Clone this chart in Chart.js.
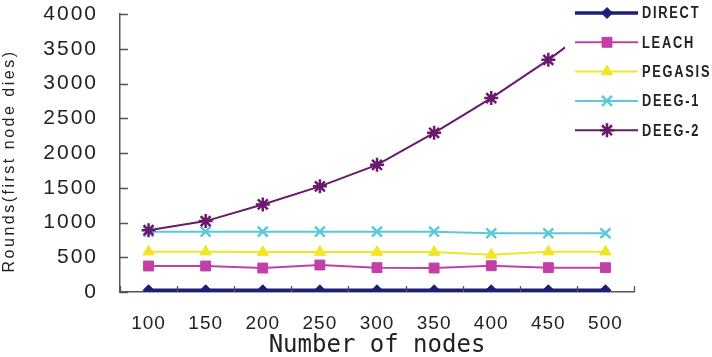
<!DOCTYPE html>
<html>
<head>
<meta charset="utf-8">
<script src="https://cdn.jsdelivr.net/npm/chart.js@4.4.0/dist/chart.umd.min.js"></script>
<style>
html,body{margin:0;padding:0;background:#fff;}
#c{display:block;}
</style>
</head>
<body>
<canvas id="c" width="712" height="357"></canvas>
<script>
const categories = ['100','150','200','250','300','350','400','450','500'];
const seriesNames = ['DIRECT','LEACH','PEGASIS','DEEG-1','DEEG-2'];
const direct  = [25, 25, 25, 25, 25, 25, 25, 25, 25];
const leach   = [374, 374, 345, 388, 350, 345, 378, 350, 350];
const pegasis = [580, 580, 575, 575, 575, 575, 535, 580, 580];
const deeg1   = [868, 868, 868, 868, 868, 868, 845, 845, 845];
const deeg2   = [890, 1020, 1260, 1520, 1830, 2290, 2790, 3340, 3950];
const yTicks = {min: 0, max: 4000, step: 500};

const colors = ['#1e1e78', '#c040a8', '#f0e628', '#5cc8d8', '#6a1a6e'];
const styles = ['rectRot', 'rect', 'triangle', 'crossRot', 'star'];
const radii  = [5.5, 7, 6.5, 7, 7];
const widths = [3.5, 2, 2, 2, 2];
const values = [direct, leach, pegasis, deeg1, deeg2];

const datasets = seriesNames.map((n, i) => ({
  label: n,
  data: values[i],
  borderColor: colors[i],
  backgroundColor: colors[i],
  pointBackgroundColor: colors[i],
  pointBorderColor: colors[i],
  pointStyle: styles[i],
  pointRadius: radii[i],
  pointBorderWidth: (styles[i] === 'crossRot' || styles[i] === 'star') ? 2.5 : 1,
  borderWidth: widths[i],
  tension: 0,
  order: 5 - i
}));

function wrapSpacing(scale, labelSpacing, titleSpacing, titleShiftX, titleShiftY) {
  if (scale._wrapped) return;
  scale._wrapped = true;
  const dl = scale.drawLabels.bind(scale);
  const dt = scale.drawTitle.bind(scale);
  scale.drawLabels = function (a) {
    const ctx = scale.ctx; ctx.save(); ctx.letterSpacing = labelSpacing + 'px'; dl(a); ctx.restore();
  };
  scale.drawTitle = function (a) {
    const ctx = scale.ctx; ctx.save(); ctx.letterSpacing = titleSpacing + 'px';
    ctx.translate(titleShiftX, titleShiftY); dt(a); ctx.restore();
  };
}

const extras = {
  id: 'extras',
  beforeDraw(chart) {
    wrapSpacing(chart.scales.y, 2, 2.5, 0, 8);
    wrapSpacing(chart.scales.x, 1, 0, 0, 3);
  },
  afterDatasetsDraw(chart) {
    const ctx = chart.ctx;
    const x = chart.scales.x, y = chart.scales.y;
    const a = chart.chartArea;
    ctx.save();
    ctx.strokeStyle = '#555';
    ctx.lineWidth = 1.3;
    ctx.beginPath();
    y.ticks.forEach(t => {
      const py = Math.round(y.getPixelForValue(t.value)) + 0.5;
      ctx.moveTo(a.left, py); ctx.lineTo(a.left + 8, py);
    });
    for (let i = 0; i <= categories.length; i++) {
      const px = Math.round(x.getPixelForValue(i - 0.5)) + 0.5;
      ctx.moveTo(px, a.bottom); ctx.lineTo(px, a.bottom - 6);
    }
    ctx.stroke();

    // legend box (white, overlaps plot)
    const lx = 565, ly = 0, lw = 147, lh = 148;
    ctx.fillStyle = '#fff';
    ctx.fillRect(lx, ly, lw, lh);
    chart.data.datasets.forEach((ds, i) => {
      const rowY = 13 + i * 29.3;
      ctx.strokeStyle = ds.borderColor;
      ctx.lineWidth = ds.borderWidth;
      ctx.beginPath(); ctx.moveTo(575, rowY); ctx.lineTo(638, rowY); ctx.stroke();
      ctx.fillStyle = ds.pointBackgroundColor;
      ctx.strokeStyle = ds.pointBorderColor;
      ctx.lineWidth = ds.pointBorderWidth;
      Chart.helpers.drawPoint(ctx, {pointStyle: ds.pointStyle, radius: ds.pointRadius, rotation: 0, borderWidth: ds.pointBorderWidth}, 607, rowY);
      ctx.save();
      ctx.translate(642, rowY + 1);
      ctx.scale(0.8, 1);
      ctx.font = 'bold 16px "Liberation Sans", Arial, sans-serif';
      ctx.letterSpacing = '2.2px';
      ctx.textBaseline = 'middle';
      ctx.textAlign = 'left';
      ctx.fillStyle = '#222';
      ctx.fillText(ds.label, 0, 0);
      ctx.restore();
    });
    ctx.restore();
  }
};

new Chart(document.getElementById('c'), {
  type: 'line',
  data: { labels: categories, datasets },
  options: {
    responsive: false,
    animation: false,
    devicePixelRatio: 1,
    layout: { padding: { top: 14, right: 78, left: 0, bottom: 0 } },
    plugins: { legend: { display: false }, tooltip: { enabled: false } },
    scales: {
      x: {
        type: 'category',
        offset: true,
        grid: { display: false, offset: true, drawTicks: false },
        border: { display: true, color: '#555', width: 1.5 },
        ticks: { color: '#222', padding: 20, maxRotation: 0, font: { family: 'Arial, "Liberation Sans", sans-serif', size: 19 } },
        title: { display: true, text: 'Number of nodes', color: '#222', padding: { top: 0, bottom: 0 },
                 font: { family: '"DejaVu Sans Mono", monospace', size: 24 } },
        afterFit(s) { s.height = 65; s.paddingLeft = 0; s.paddingRight = 0; }
      },
      y: {
        min: yTicks.min, max: yTicks.max,
        grid: { display: false, drawTicks: false },
        border: { display: true, color: '#555', width: 1.5 },
        ticks: { stepSize: yTicks.step, color: '#222', padding: 22, callback: v => String(v),
                 font: { family: 'Arial, "Liberation Sans", sans-serif', size: 21 } },
        title: { display: true, text: 'Rounds(first node dies)', color: '#222', padding: { top: 0, bottom: 0 },
                 font: { family: 'Arial, "Liberation Sans", sans-serif', size: 16 } },
        afterFit(s) { s.width = 120; s.paddingTop = 0; s.paddingBottom = 0; }
      }
    }
  },
  plugins: [extras]
});
</script>
</body>
</html>
